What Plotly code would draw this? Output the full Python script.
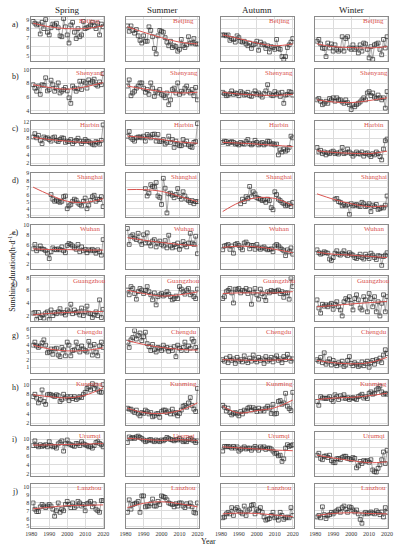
import plotly.graph_objects as go

years = list(range(1981, 2021))
trend_years = [1981, 1990, 2000, 2010, 2020]
seasons = ["Spring", "Summer", "Autumn", "Winter"]
cities = ["Beijing", "Shenyang", "Harbin", "Shanghai", "Wuhan",
          "Guangzhou", "Chengdu", "Kunming", "Urumqi", "Lanzhou"]
row_labels = ["a)", "b)", "c)", "d)", "e)", "f)", "g)", "h)", "i)", "j)"]

# y-axis tick values and ranges per row
row_ticks = [[5, 6, 7, 8, 9], [4, 6, 8, 10], [2, 4, 6, 8, 10, 12], [3, 4, 5, 6, 7, 8, 9],
             [2, 4, 6, 8, 10], [2, 4, 6, 8], [1, 2, 3, 4, 5, 6], [2, 4, 6, 8, 10],
             [2, 4, 6, 8, 10], [5, 6, 7, 8, 9, 10]]
row_ranges = [[4.4, 9.3], [3.7, 10.1], [1.6, 12.2], [2.85, 9.1], [1.0, 10.1],
              [1.2, 8.2], [0.3, 6.1], [1.7, 10.9], [1.3, 11.6], [4.75, 10.4]]
x_ticks = [1980, 1990, 2000, 2010, 2020]

# ---- Beijing
beijing_spring = [8.8, 8.6, 8.4, 8.5, 7.4, 8.7, 8.0, 9.0, 7.6, 7.3, 8.1, 8.5, 8.4, 8.6, 8.1, 7.2, 7.1, 9.1, 8.2, 7.3,
                  6.4, 8.4, 8.7, 7.6, 6.9, 8.0, 7.1, 7.3, 8.8, 8.0, 8.1, 8.2, 8.4, 8.7, 8.3, 8.0, 8.6, 7.3, 8.5, 8.2]
beijing_summer = [8.3, 7.7, 8.3, 7.8, 7.5, 7.9, 7.2, 6.7, 6.4, 7.2, 6.6, 6.6, 8.2, 7.8, 7.1, 5.8, 5.2, 7.2, 7.8, 7.7,
                  7.6, 7.0, 6.5, 6.1, 6.6, 5.9, 6.1, 6.0, 5.5, 5.7, 6.8, 6.1, 5.9, 6.2, 7.1, 6.4, 6.4, 6.9, 6.3, 6.3]
beijing_autumn = [7.3, 7.3, 7.2, 7.3, 6.7, 6.9, 6.8, 6.5, 7.2, 7.0, 6.6, 6.5, 6.6, 6.3, 6.1, 6.4, 5.8, 6.2, 6.3, 6.6,
                  5.6, 6.5, 6.2, 6.3, 5.8, 6.1, 5.4, 6.0, 5.9, 5.7, 6.8, 5.8, 5.7, 4.9, 4.6, 4.9, 5.9, 6.2, 6.5, 6.9]
beijing_winter = [6.6, 6.8, 6.3, 5.85, 5.8, 4.9, 6.4, 5.85, 6.3, 5.5, 6.2, 5.7, 5.5, 5.7, 7.1, 5.5, 6.9, 7.1, 5.85, 5.7,
                  6.2, 5.7, 5.85, 5.3, 6.2, 5.5, 6.4, 6.3, 5.7, 4.75, 6.0, 4.6, 6.2, 6.3, 6.4, 5.7, 5.1, 6.8, 5.85, 7.1]
# ---- Shenyang
shenyang_spring = [7.8, 7.3, 6.85, 7.6, 6.4, 7.8, 7.7, 8.8, 6.9, 7.1, 8.45, 7.8, 6.85, 7.3, 8.06, 6.6, 6.85, 7.1, 7.4, 6.9,
                   5.9, 5.1, 7.6, 7.3, 6.85, 7.2, 8.3, 7.1, 8.3, 8.06, 7.3, 8.5, 8.06, 8.3, 8.6, 7.8, 7.6, 8.2, 7.8, 9.4]
shenyang_summer = [7.6, 8.5, 6.2, 6.6, 6.85, 7.3, 7.6, 8.06, 8.06, 7.3, 6.7, 7.1, 6.4, 8.06, 7.3, 6.1, 6.85, 6.6, 7.1, 6.4,
                   6.2, 5.9, 6.6, 4.9, 5.6, 7.1, 7.3, 6.6, 8.06, 6.4, 6.85, 6.6, 7.3, 7.6, 6.85, 6.6, 7.1, 6.2, 7.4, 5.6]
shenyang_autumn = [6.7, 6.5, 6.2, 6.3, 6.5, 6.9, 6.4, 6.6, 6.5, 6.2, 6.8, 6.6, 6.3, 6.4, 6.7, 6.2, 6.1, 6.5, 6.9, 6.4,
                   6.6, 6.3, 6.0, 6.5, 6.9, 7.8, 6.5, 6.3, 6.2, 6.8, 6.4, 6.6, 6.1, 6.7, 5.1, 6.3, 6.4, 6.8, 6.7, 6.3]
shenyang_winter = [5.6, 5.8, 5.4, 4.9, 5.1, 5.4, 5.1, 5.8, 5.6, 5.9, 5.4, 5.9, 5.6, 5.6, 5.3, 5.1, 5.6, 5.2, 4.9, 4.2,
                   4.9, 4.6, 4.9, 5.1, 5.3, 5.6, 5.9, 5.6, 6.6, 6.8, 6.2, 6.6, 6.0, 5.8, 6.3, 5.9, 5.6, 5.9, 4.4, 6.8]
# ---- Harbin
harbin_spring = [8.3, 9.1, 8.1, 8.7, 7.5, 6.7, 8.3, 8.0, 8.1, 7.7, 7.3, 8.1, 8.3, 7.5, 7.2, 7.7, 8.1, 8.0, 7.0, 7.3,
                 7.2, 7.7, 6.7, 7.2, 7.5, 8.0, 7.3, 6.7, 7.2, 7.7, 7.3, 7.2, 6.9, 6.6, 6.4, 7.2, 7.0, 6.6, 7.5, 11.2]
harbin_summer = [8.5, 9.6, 8.1, 7.7, 7.3, 8.1, 8.3, 8.3, 8.1, 8.5, 7.3, 8.9, 8.5, 8.1, 8.9, 9.0, 7.3, 8.9, 7.2, 7.3,
                 7.7, 6.6, 7.0, 8.5, 7.0, 7.7, 5.8, 7.3, 6.6, 6.2, 6.2, 7.7, 6.6, 7.3, 6.4, 6.0, 5.8, 7.0, 7.2, 11.5]
harbin_autumn = [7.0, 7.3, 7.2, 6.7, 7.0, 7.2, 7.0, 6.6, 6.7, 6.4, 7.0, 6.7, 6.6, 7.2, 7.7, 6.7, 6.4, 6.7, 7.5, 7.0,
                 6.4, 6.7, 7.0, 6.4, 6.7, 7.3, 7.2, 6.6, 6.7, 6.4, 6.6, 4.0, 5.2, 4.7, 5.4, 4.9, 5.2, 5.8, 8.5, 8.1]
harbin_winter = [5.8, 4.7, 5.1, 4.3, 4.7, 4.0, 4.5, 4.3, 4.7, 4.9, 4.3, 4.5, 4.2, 4.7, 5.8, 4.3, 4.5, 5.4, 4.7, 4.3,
                 3.7, 4.2, 4.7, 4.3, 4.2, 4.7, 3.7, 4.3, 4.5, 4.0, 3.6, 4.3, 4.0, 4.7, 4.3, 3.6, 2.8, 5.4, 7.4, 7.8]
# ---- Shanghai (no data before 1991)
shanghai_spring = [None] * 10 + [6.0, 5.35, 5.05, 5.2, 5.05, 4.9, 5.05, 5.7, 5.8, 4.0, 4.4, 4.6, 5.05, 5.35, 5.2,
                                 4.8, 4.6, 4.4, 5.05, 5.5, 4.0, 4.5, 5.2, 5.7, 5.9, 5.05, 5.35, 5.3, 5.7, 4.3]
shanghai_summer = [None] * 10 + [6.85, 5.8, 6.2, 7.4, 7.15, 7.05, 7.7, 5.8, 5.6, 4.6, 8.3, 6.9, 3.4, 6.1, 6.2,
                                 5.9, 5.55, 6.0, 6.85, 5.7, 5.35, 6.4, 5.8, 5.35, 5.15, 4.9, 5.15, 4.7, 5.0, 5.0]
shanghai_autumn = [None] * 10 + [4.7, 5.35, 5.0, 5.7, 5.45, 7.15, 5.7, 6.4, 6.1, 5.55, 5.45, 5.35, 5.15, 5.25, 4.9,
                                 5.35, 5.15, 4.15, 3.85, 6.4, 6.0, 5.35, 5.15, 4.9, 4.7, 4.4, 4.5, 4.7, 4.3, 4.9]
shanghai_winter = [None] * 10 + [5.35, 5.45, 5.0, 4.9, 4.4, 4.6, 4.4, 4.6, 3.2, 4.7, 4.4, 4.5, 4.6, 4.4, 4.3,
                                 4.9, 4.7, 4.3, 4.4, 4.7, 3.6, 4.5, 4.3, 4.6, 3.9, 4.0, 4.2, 4.1, 4.5, 5.8]
# ---- Wuhan
wuhan_spring = [5.1, 6.0, 4.7, 5.1, 5.7, 5.1, 5.0, 4.7, 4.2, 3.1, 4.5, 5.3, 5.0, 4.9, 5.1, 4.9, 5.5, 4.7, 4.3, 5.8,
                6.2, 6.0, 5.7, 5.3, 5.0, 6.0, 4.5, 5.5, 4.7, 5.0, 4.3, 4.9, 4.7, 5.0, 4.7, 4.2, 4.9, 4.5, 3.8, 7.0]
wuhan_summer = [9.3, 6.0, 7.7, 8.0, 7.3, 7.0, 8.3, 6.7, 6.0, 8.0, 6.3, 8.4, 6.3, 5.7, 6.7, 7.0, 5.5, 6.3, 6.7, 6.0,
                5.7, 6.8, 5.3, 7.9, 5.7, 5.3, 6.0, 5.5, 6.3, 5.0, 5.7, 6.6, 6.0, 5.5, 6.3, 8.3, 6.3, 6.0, 7.7, 4.1]
wuhan_autumn = [4.9, 5.7, 5.8, 6.0, 5.0, 5.7, 4.2, 6.0, 6.2, 5.8, 5.3, 4.9, 6.3, 6.5, 6.0, 5.1, 5.8, 5.8, 5.0, 6.0,
                5.3, 5.0, 5.3, 5.5, 5.1, 4.9, 5.0, 5.1, 4.5, 5.7, 6.0, 5.7, 5.3, 5.0, 4.7, 3.7, 4.9, 4.5, 5.3, 4.0]
wuhan_winter = [4.9, 4.3, 4.0, 4.2, 4.5, 4.3, 4.2, 3.0, 2.7, 3.3, 4.2, 4.7, 4.0, 3.8, 4.2, 4.7, 4.0, 3.7, 4.3, 4.0,
                3.8, 3.3, 3.1, 3.5, 4.0, 3.3, 3.0, 4.0, 3.5, 3.1, 4.2, 3.8, 3.3, 2.9, 3.7, 3.6, 1.7, 3.5, 3.8, 4.3]
# ---- Guangzhou
guangzhou_spring = [2.4, 2.5, 1.4, 2.5, 1.7, 2.1, 1.6, 2.4, 2.6, 1.4, 2.9, 2.0, 2.5, 2.3, 2.6, 3.1, 2.4, 2.5, 2.1, 2.9,
                    2.6, 3.8, 2.3, 2.9, 2.5, 2.6, 2.1, 3.2, 2.0, 2.6, 3.5, 2.4, 2.3, 1.7, 2.1, 2.6, 2.0, 4.5, 1.7, 3.0]
guangzhou_summer = [6.05, 5.3, 6.6, 6.3, 5.5, 4.6, 5.8, 6.3, 6.05, 5.5, 5.95, 6.6, 5.8, 5.3, 4.5, 5.6, 3.7, 5.0, 5.3, 5.5,
                    5.1, 5.3, 5.8, 5.4, 5.0, 4.5, 4.7, 5.1, 4.7, 6.6, 6.2, 5.8, 5.4, 6.05, 6.3, 5.3, 5.6, 5.0, 4.7, 6.2]
guangzhou_autumn = [4.7, 5.0, 5.8, 6.0, 6.3, 5.6, 4.0, 6.2, 6.1, 6.3, 5.6, 6.0, 5.9, 6.3, 5.5, 6.1, 3.8, 5.6, 6.3, 5.3,
                    4.6, 6.2, 5.5, 5.0, 4.4, 5.8, 5.6, 6.0, 5.8, 5.8, 5.9, 6.05, 5.5, 5.8, 4.9, 5.6, 5.6, 4.6, 7.9, 6.6]
guangzhou_winter = [4.5, 3.2, 2.4, 3.8, 3.5, 3.7, 3.4, 3.7, 3.95, 3.0, 3.8, 4.2, 3.4, 2.9, 1.95, 4.2, 4.7, 4.5, 5.0, 3.95,
                    2.9, 4.7, 5.3, 4.5, 3.2, 2.9, 5.0, 4.5, 2.6, 5.5, 4.7, 3.4, 5.0, 2.6, 4.2, 1.95, 3.95, 5.3, 2.6, 5.0]
# ---- Chengdu
chengdu_spring = [3.9, 4.3, 3.8, 3.6, 3.8, 4.2, 4.6, 3.9, 2.9, 3.0, 3.4, 2.7, 3.4, 3.5, 2.6, 2.4, 3.6, 3.3, 2.5, 4.3,
                  3.9, 2.5, 3.2, 3.3, 4.3, 3.6, 3.0, 3.8, 3.4, 3.2, 3.0, 4.4, 3.8, 2.6, 4.0, 3.0, 2.5, 3.8, 4.3, 3.6]
chengdu_summer = [4.3, 3.6, 4.6, 4.9, 5.8, 4.7, 5.2, 5.5, 4.5, 5.0, 5.6, 4.1, 3.7, 3.2, 4.0, 3.3, 3.0, 3.6, 3.5, 3.2,
                  3.9, 3.4, 3.6, 3.1, 3.5, 3.2, 3.7, 2.4, 3.9, 3.5, 3.2, 3.6, 4.3, 3.2, 3.8, 3.5, 4.7, 4.4, 3.6, 3.2]
chengdu_autumn = [2.0, 1.8, 2.2, 1.6, 2.4, 1.9, 2.1, 1.5, 2.3, 1.8, 2.0, 1.7, 2.5, 1.9, 1.6, 2.2, 1.8, 2.6, 2.0, 1.7,
                  2.3, 1.9, 2.1, 1.5, 2.4, 1.8, 2.0, 2.3, 1.7, 2.2, 2.5, 1.9, 2.1, 1.6, 2.4, 2.0, 2.7, 2.2, 1.8, 2.1]
chengdu_winter = [2.0, 1.8, 2.3, 1.6, 2.9, 1.4, 1.7, 2.1, 1.3, 1.9, 1.5, 1.2, 1.6, 1.4, 1.8, 1.1, 1.3, 1.9, 2.4, 1.5,
                  1.2, 1.6, 1.4, 1.1, 1.3, 1.7, 1.2, 1.5, 1.8, 1.0, 1.6, 1.9, 1.4, 2.0, 1.8, 2.2, 1.6, 2.6, 3.3, 2.8]
# ---- Kunming
kunming_spring = [7.5, 8.0, 7.2, 6.2, 6.9, 8.9, 6.5, 5.9, 7.9, 8.0, 7.9, 7.7, 7.5, 7.9, 7.7, 6.5, 6.9, 8.0, 7.2, 7.5,
                  6.7, 7.5, 7.1, 7.5, 6.9, 7.2, 7.5, 7.3, 8.0, 8.4, 9.2, 9.5, 8.9, 10.2, 9.2, 9.9, 8.9, 8.5, 8.4, 10.0]
kunming_summer = [5.1, 4.9, 4.9, 4.5, 4.2, 4.7, 3.9, 3.5, 4.2, 4.0, 4.7, 4.4, 3.9, 4.2, 3.3, 3.5, 3.9, 4.0, 3.2, 4.4,
                  4.7, 4.7, 4.2, 4.5, 3.9, 4.9, 3.9, 4.2, 3.5, 4.0, 4.7, 5.5, 5.7, 5.3, 6.2, 7.3, 5.7, 4.9, 4.4, 9.2]
kunming_autumn = [5.7, 5.3, 4.5, 5.1, 4.2, 3.7, 4.0, 4.2, 3.9, 3.5, 4.4, 3.9, 4.7, 4.5, 5.1, 5.3, 4.7, 5.2, 4.9, 4.4,
                  5.1, 4.5, 4.9, 4.5, 5.1, 5.5, 5.1, 4.0, 5.9, 3.9, 4.0, 6.5, 6.7, 5.9, 6.2, 8.2, 5.5, 5.0, 4.6, 8.4]
kunming_winter = [6.5, 5.7, 7.5, 7.2, 7.2, 7.1, 7.2, 7.5, 6.9, 6.5, 7.9, 7.5, 6.9, 7.7, 7.2, 7.9, 7.1, 7.3, 6.9, 7.2,
                  7.3, 7.1, 6.9, 7.5, 7.7, 8.0, 7.2, 7.5, 7.1, 8.2, 8.5, 8.0, 8.2, 8.9, 9.2, 9.7, 8.5, 8.0, 8.2, 8.0]
# ---- Urumqi
urumqi_spring = [8.5, 9.6, 8.5, 8.2, 8.7, 8.3, 8.5, 8.7, 8.2, 9.4, 8.5, 8.2, 8.3, 7.9, 8.9, 9.2, 9.6, 7.2, 8.9, 9.8,
                 8.9, 8.7, 8.5, 8.3, 9.0, 8.9, 8.5, 9.4, 8.9, 8.7, 8.5, 8.2, 8.3, 7.9, 8.5, 9.2, 9.4, 9.0, 8.7, 8.2]
urumqi_summer = [9.2, 10.5, 10.15, 10.4, 10.15, 10.5, 10.7, 10.4, 10.15, 9.8, 9.4, 9.6, 9.8, 9.9, 9.6, 9.4, 9.8, 9.6,
                 9.4, 9.8, 9.6, 9.9, 10.4, 10.15, 9.9, 9.8, 9.6, 9.9, 9.8, 10.15, 9.8, 9.4, 9.6, 9.4, 9.9, 10.15, 9.8,
                 9.6, 9.2, 9.6]
urumqi_autumn = [7.2, 8.3, 8.2, 8.3, 8.2, 7.9, 8.3, 7.9, 8.2, 7.2, 7.6, 7.9, 8.2, 7.7, 7.9, 7.9, 7.4, 7.9, 8.3, 7.9,
                 7.4, 8.2, 7.9, 8.2, 7.6, 7.9, 7.9, 7.7, 7.2, 6.7, 6.7, 6.1, 6.25, 4.8, 5.4, 7.9, 8.7, 8.3, 8.5, 8.7]
urumqi_winter = [6.25, 6.7, 5.5, 5.2, 6.0, 6.1, 5.7, 6.25, 5.0, 4.6, 4.5, 5.4, 5.5, 5.2, 5.7, 6.0, 6.0, 5.5, 5.4, 5.2,
                 5.7, 5.5, 3.3, 3.75, 4.8, 4.3, 5.0, 4.8, 5.0, 4.6, 5.2, 2.8, 2.4, 2.3, 3.2, 4.0, 5.2, 7.0, 4.3, 7.4]
# ---- Lanzhou
lanzhou_spring = [8.0, 7.2, 6.9, 6.9, 7.5, 7.8, 7.6, 7.4, 7.6, 7.8, 7.6, 7.2, 6.3, 7.0, 8.0, 6.8, 7.2, 7.0, 7.8, 8.2,
                  7.8, 7.4, 8.0, 7.4, 7.6, 8.2, 8.0, 7.6, 7.8, 7.0, 7.9, 8.0, 8.2, 7.5, 7.9, 7.2, 7.0, 6.8, 8.3, 8.3]
lanzhou_summer = [6.8, 8.4, 7.2, 7.8, 7.9, 8.0, 8.2, 6.8, 8.9, 8.9, 7.5, 7.6, 7.6, 7.9, 8.5, 7.6, 7.6, 8.2, 7.8, 8.9,
                  8.8, 8.7, 8.4, 8.0, 7.9, 7.8, 7.5, 7.9, 7.6, 8.0, 8.0, 7.6, 7.4, 7.9, 7.6, 8.0, 7.5, 6.8, 6.7, 8.0]
lanzhou_autumn = [6.1, 6.2, 6.6, 6.8, 6.6, 7.4, 6.4, 7.2, 7.4, 7.0, 6.8, 6.6, 7.6, 6.4, 7.0, 7.2, 7.7, 7.8, 6.6, 7.2,
                  7.0, 7.4, 6.8, 6.2, 5.8, 5.9, 6.0, 6.4, 6.8, 6.1, 6.2, 5.8, 6.8, 6.4, 5.9, 6.1, 6.2, 6.1, 7.4, 6.4]
lanzhou_winter = [6.2, 6.4, 6.1, 7.5, 6.5, 6.0, 6.4, 6.5, 6.8, 6.6, 6.85, 7.0, 7.2, 6.8, 7.4, 7.6, 7.2, 6.8, 7.5, 7.4,
                  7.1, 6.85, 7.1, 6.6, 5.9, 5.4, 6.6, 6.8, 6.6, 6.7, 6.85, 6.7, 6.6, 7.0, 6.8, 6.5, 6.85, 6.2, 7.4, 6.8]

# fitted trend curves read at trend_years: [spring, summer, autumn, winter] per city
beijing_trend = [[8.6, 8.2, 8.0, 8.0, 8.3], [8.2, 7.6, 7.0, 6.5, 6.3], [7.3, 6.9, 6.4, 6.1, 6.3], [6.3, 6.0, 5.9, 5.85, 6.0]]
shenyang_trend = [[7.8, 7.4, 7.15, 7.5, 8.1], [7.6, 7.2, 6.8, 6.6, 6.7], [6.7, 6.45, 6.3, 6.25, 6.4], [5.6, 5.3, 5.2, 5.5, 5.9]]
harbin_trend = [[8.2, 7.7, 7.3, 7.0, 7.4], [8.5, 8.2, 7.7, 7.1, 6.8], [7.0, 6.85, 6.6, 6.3, 6.0], [5.0, 4.6, 4.4, 4.3, 4.9]]
shanghai_trend = [[7.05, 6.0, 5.05, 4.9, 5.4], [6.7, 6.7, 6.45, 5.75, 5.0], [3.6, 4.85, 5.55, 5.45, 4.45], [6.1, 5.35, 4.7, 4.3, 4.4]]
wuhan_trend = [[5.1, 4.95, 4.95, 4.85, 4.85], [7.4, 6.9, 6.4, 6.0, 5.7], [5.4, 5.65, 5.5, 5.0, 4.3], [4.4, 4.0, 3.8, 3.55, 3.3]]
guangzhou_trend = [[2.1, 2.35, 2.5, 2.6, 2.65], [6.0, 5.5, 5.1, 5.3, 5.75], [5.5, 5.6, 5.6, 5.6, 5.8], [3.4, 3.6, 3.85, 4.05, 4.25]]
chengdu_trend = [[3.9, 3.4, 3.15, 3.2, 3.55], [4.5, 4.0, 3.6, 3.35, 3.25], [2.0, 1.95, 1.9, 1.95, 2.05], [1.9, 1.6, 1.45, 1.6, 2.3]]
kunming_trend = [[7.9, 7.5, 7.25, 7.8, 9.3], [5.1, 4.2, 4.0, 4.6, 6.2], [5.5, 4.1, 4.6, 5.2, 6.8], [6.9, 7.2, 7.35, 7.7, 8.2]]
urumqi_trend = [[8.6, 8.65, 8.75, 8.85, 8.95], [10.2, 9.95, 9.7, 9.85, 9.7], [8.2, 7.95, 7.7, 7.45, 7.3], [6.25, 5.6, 5.0, 4.5, 4.7]]
lanzhou_trend = [[7.25, 7.45, 7.65, 7.7, 7.75], [7.4, 7.95, 8.15, 7.9, 7.5], [6.6, 6.7, 6.65, 6.45, 6.25], [6.4, 6.65, 6.75, 6.65, 6.6]]

series = [
    [beijing_spring, beijing_summer, beijing_autumn, beijing_winter],
    [shenyang_spring, shenyang_summer, shenyang_autumn, shenyang_winter],
    [harbin_spring, harbin_summer, harbin_autumn, harbin_winter],
    [shanghai_spring, shanghai_summer, shanghai_autumn, shanghai_winter],
    [wuhan_spring, wuhan_summer, wuhan_autumn, wuhan_winter],
    [guangzhou_spring, guangzhou_summer, guangzhou_autumn, guangzhou_winter],
    [chengdu_spring, chengdu_summer, chengdu_autumn, chengdu_winter],
    [kunming_spring, kunming_summer, kunming_autumn, kunming_winter],
    [urumqi_spring, urumqi_summer, urumqi_autumn, urumqi_winter],
    [lanzhou_spring, lanzhou_summer, lanzhou_autumn, lanzhou_winter],
]
trends = [beijing_trend, shenyang_trend, harbin_trend, shanghai_trend, wuhan_trend,
          guangzhou_trend, chengdu_trend, kunming_trend, urumqi_trend, lanzhou_trend]

W, H = 399, 550
col_left = [26, 123, 221, 318]
col_w = 75
row_top0, row_step, row_h = 15, 52.3, 44.5

FONT = "Liberation Serif"
RED = "#d9534f"

fig = go.Figure()
layout = dict(width=W, height=H, margin=dict(l=0, r=0, t=0, b=0),
              paper_bgcolor="white", plot_bgcolor="white", showlegend=False,
              font=dict(family=FONT, size=6, color="#333"))
annotations = []

for r in range(10):
    top = row_top0 + r * row_step
    y0 = 1 - (top + row_h) / H
    y1 = 1 - top / H
    for c in range(4):
        k = r * 4 + c + 1
        xa = "x" if k == 1 else f"x{k}"
        ya = "y" if k == 1 else f"y{k}"
        x0 = col_left[c] / W
        x1 = (col_left[c] + col_w) / W
        fig.add_trace(go.Scatter(
            x=years, y=series[r][c], xaxis=xa, yaxis=ya, mode="lines+markers",
            line=dict(color="#707070", width=0.6), connectgaps=False,
            marker=dict(symbol="square-open", size=3.8, color="#2b2b2b", line=dict(width=0.7)),
            hoverinfo="skip"))
        fig.add_trace(go.Scatter(
            x=trend_years, y=trends[r][c], xaxis=xa, yaxis=ya, mode="lines",
            line=dict(color=RED, width=1, shape="spline", smoothing=1.0), hoverinfo="skip"))
        xkey = "xaxis" if k == 1 else f"xaxis{k}"
        ykey = "yaxis" if k == 1 else f"yaxis{k}"
        layout[xkey] = dict(domain=[x0, x1], anchor=ya, range=[1980, 2020.6],
                            tickvals=x_ticks, ticktext=[str(v) for v in x_ticks],
                            showticklabels=(r == 9), ticks="", tickfont=dict(size=6, color="#333"),
                            showgrid=True, gridcolor="#dcdcdc", gridwidth=0.6,
                            showline=True, linecolor="#8a8a8a", linewidth=0.8, mirror=True,
                            zeroline=False, fixedrange=True)
        layout[ykey] = dict(domain=[y0, y1], anchor=xa, range=row_ranges[r],
                            tickvals=row_ticks[r], showticklabels=(c == 0), ticks="",
                            tickfont=dict(size=6, color="#333"),
                            showgrid=True, gridcolor="#dcdcdc", gridwidth=0.6,
                            showline=True, linecolor="#8a8a8a", linewidth=0.8, mirror=True,
                            zeroline=False, fixedrange=True)
        annotations.append(dict(text=cities[r], xref="paper", yref="paper",
                                x=(col_left[c] + col_w * 0.80) / W, y=1 - (top - 2) / H,
                                xanchor="center", yanchor="top", showarrow=False,
                                font=dict(family=FONT, size=7, color=RED)))
    annotations.append(dict(text=row_labels[r], xref="paper", yref="paper",
                            x=4 / W, y=1 - (top + 1) / H, xanchor="left", yanchor="top",
                            showarrow=False, font=dict(family=FONT, size=8, color="#222")))

for c, s in enumerate(seasons):
    annotations.append(dict(text=s, xref="paper", yref="paper",
                            x=(col_left[c] + col_w / 2) / W, y=1 - 1 / H,
                            xanchor="center", yanchor="top", showarrow=False,
                            font=dict(family=FONT, size=9, color="#222")))

annotations.append(dict(text="Sunshine duration(h·d<sup>-1</sup>)", xref="paper", yref="paper",
                        x=6 / W, y=1 - 272 / H, xanchor="center", yanchor="middle",
                        textangle=-90, showarrow=False,
                        font=dict(family=FONT, size=8, color="#222")))
annotations.append(dict(text="Year", xref="paper", yref="paper",
                        x=208 / W, y=0, xanchor="center", yanchor="bottom",
                        showarrow=False, font=dict(family=FONT, size=8, color="#222")))

layout["annotations"] = annotations
fig.update_layout(**layout)
fig.write_html("out.html", config={"displayModeBar": False},
               post_script="document.body.style.margin='0';document.body.style.overflow='hidden';")
